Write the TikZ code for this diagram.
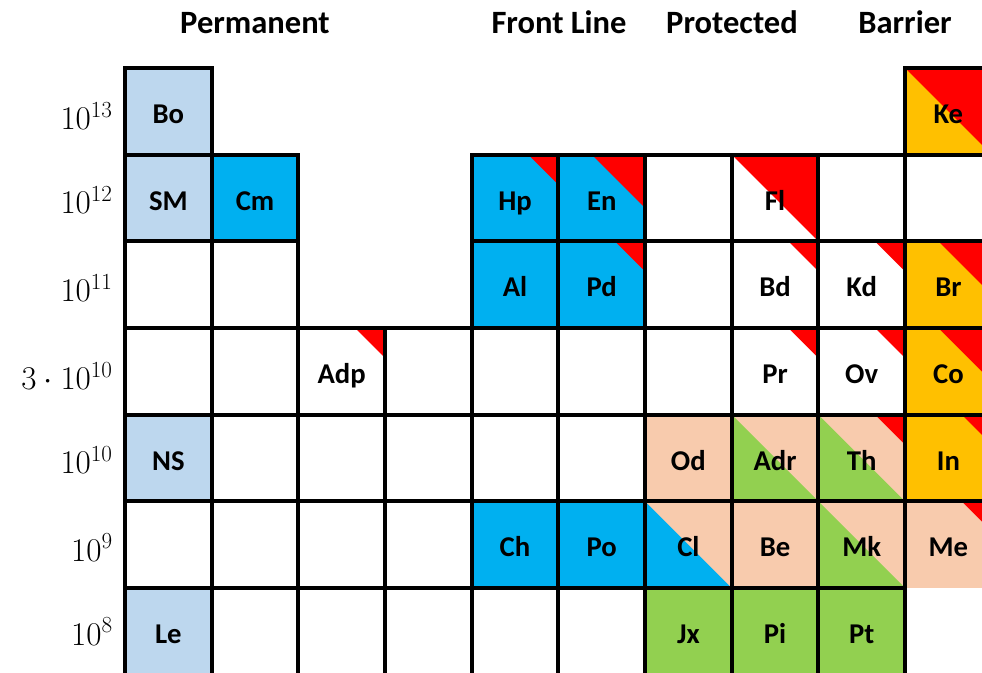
\documentclass[tikz,border=0pt]{standalone}
\usepackage{fontspec}
\newfontfamily\carl{Carlito}
\definecolor{lb}{HTML}{BDD7EE}
\definecolor{cyb}{HTML}{00B0F0}
\definecolor{orb}{HTML}{FFC000}
\definecolor{rdc}{HTML}{FF0000}
\definecolor{pch}{HTML}{F8CBAD}
\definecolor{grn}{HTML}{92D050}
\newcommand\mkcell[5][]{\node[cellbox,#1] (#4) at ({81.67+86.67*#2},{24.67+86.67*#3}) {#5};}
\tikzset{
  cellbox/.style={draw=black, line width=3pt, minimum width=65pt, minimum height=65pt,
    inner sep=0pt, outer sep=0pt, font=\carl\bfseries\fontsize{21.5pt}{21.5pt}\selectfont,
    text height=18pt, text depth=0pt},
  gridline/.style={draw=black, line width=3pt, line cap=rect},
  corner/.style={path picture={\fill[rdc] ([xshift=-#1]path picture bounding box.north east)
     -- (path picture bounding box.north east) -- ([yshift=-#1]path picture bounding box.north east) -- cycle;}},
  split/.style 2 args={fill=#2, path picture={\fill[#1] (path picture bounding box.north west)
     -- (path picture bounding box.south east) -- (path picture bounding box.south west) -- cycle;}},
  splitcorner/.style n args={3}{fill=#2, path picture={\fill[#1] (path picture bounding box.north west)
     -- (path picture bounding box.south east) -- (path picture bounding box.south west) -- cycle;
     \fill[rdc] ([xshift=-#3]path picture bounding box.north east)
     -- (path picture bounding box.north east) -- ([yshift=-#3]path picture bounding box.north east) -- cycle;}},
  rowlab/.style={anchor=base east, inner sep=0pt, font=\fontsize{26pt}{26pt}\selectfont},
  hdr/.style={anchor=base, inner sep=0pt, font=\carl\bfseries\fontsize{24.4pt}{24.4pt}\selectfont}
}
\begin{document}
\begin{tikzpicture}[x=0.75pt,y=-0.75pt]
\useasboundingbox (0,0) rectangle (982,673);
\clip (0,0) rectangle (982,673);
% headers
\node[hdr] (hperm) at (255,33.5) {Permanent};
\node[hdr] (hfront) at (559,33.5) {Front Line};
\node[hdr] (hprot) at (732,33.5) {Protected};
\node[hdr] (hbarr) at (905,33.5) {Barrier};
% row labels
\node[rowlab] (l13) at (113,130) {$10^{13}$};
\node[rowlab] (l12) at (113,214) {$10^{12}$};
\node[rowlab] (l11) at (113,302) {$10^{11}$};
\node[rowlab] (l3e10) at (113,390) {$3\cdot10^{10}$};
\node[rowlab] (l10) at (113,474) {$10^{10}$};
\node[rowlab] (l9) at (113,561) {$10^{9}$};
\node[rowlab] (l8) at (113,645) {$10^{8}$};
% row 1
\mkcell[fill=lb]{1}{1}{Bo}{Bo}
\mkcell[fill=orb,corner=65pt]{10}{1}{Ke}{Ke}
% row 2
\mkcell[fill=lb]{1}{2}{SM}{SM}
\mkcell[fill=cyb]{2}{2}{Cm}{Cm}
\mkcell[fill=cyb,corner=22.5pt]{5}{2}{Hp}{Hp}
\mkcell[fill=cyb,corner=40pt]{6}{2}{En}{En}
\mkcell{7}{2}{e72}{}
\mkcell[corner=65pt]{8}{2}{Fl}{Fl}
\mkcell{9}{2}{e92}{}
\mkcell{10}{2}{e102}{}
% row 3
\mkcell{1}{3}{e13}{}
\mkcell{2}{3}{e23}{}
\mkcell[fill=cyb]{5}{3}{Al}{Al}
\mkcell[fill=cyb,corner=22.5pt]{6}{3}{Pd}{Pd}
\mkcell{7}{3}{e73}{}
\mkcell[corner=22.5pt]{8}{3}{Bd}{Bd}
\mkcell[corner=22.5pt]{9}{3}{Kd}{Kd}
\mkcell[fill=orb,corner=40pt]{10}{3}{Br}{Br}
% row 4
\mkcell{1}{4}{e14}{}
\mkcell{2}{4}{e24}{}
\mkcell[corner=22.5pt]{3}{4}{Adp}{Adp}
\mkcell{4}{4}{e44}{}
\mkcell{5}{4}{e54}{}
\mkcell{6}{4}{e64}{}
\mkcell{7}{4}{e74}{}
\mkcell[corner=22.5pt]{8}{4}{Pr}{Pr}
\mkcell[corner=22.5pt]{9}{4}{Ov}{Ov}
\mkcell[fill=orb,corner=40pt]{10}{4}{Co}{Co}
% row 5
\mkcell[fill=lb]{1}{5}{NS}{NS}
\mkcell{2}{5}{e25}{}
\mkcell{3}{5}{e35}{}
\mkcell{4}{5}{e45}{}
\mkcell{5}{5}{e55}{}
\mkcell{6}{5}{e65}{}
\mkcell[fill=pch]{7}{5}{Od}{Od}
\mkcell[split={grn}{pch}]{8}{5}{Adr}{Adr}
\mkcell[splitcorner={grn}{pch}{22.5pt}]{9}{5}{Th}{Th}
\mkcell[fill=orb,corner=22.5pt]{10}{5}{In}{In}
% row 6
\mkcell{1}{6}{e16}{}
\mkcell{2}{6}{e26}{}
\mkcell{3}{6}{e36}{}
\mkcell{4}{6}{e46}{}
\mkcell[fill=cyb]{5}{6}{Ch}{Ch}
\mkcell[fill=cyb]{6}{6}{Po}{Po}
\mkcell[split={cyb}{pch}]{7}{6}{Cl}{Cl}
\mkcell[fill=pch]{8}{6}{Be}{Be}
\mkcell[split={grn}{pch}]{9}{6}{Mk}{Mk}
\mkcell[fill=pch,corner=22.5pt,draw=none]{10}{6}{Me}{Me}
\draw[gridline] (Me.south west) -- (Me.north west) -- (Me.north east);
% row 7
\mkcell[fill=lb]{1}{7}{Le}{Le}
\mkcell{2}{7}{e27}{}
\mkcell{3}{7}{e37}{}
\mkcell{4}{7}{e47}{}
\mkcell{5}{7}{e57}{}
\mkcell{6}{7}{e67}{}
\mkcell[fill=grn]{7}{7}{Jx}{Jx}
\mkcell[fill=grn]{8}{7}{Pi}{Pi}
\mkcell[fill=grn]{9}{7}{Pt}{Pt}
\end{tikzpicture}
\end{document}
